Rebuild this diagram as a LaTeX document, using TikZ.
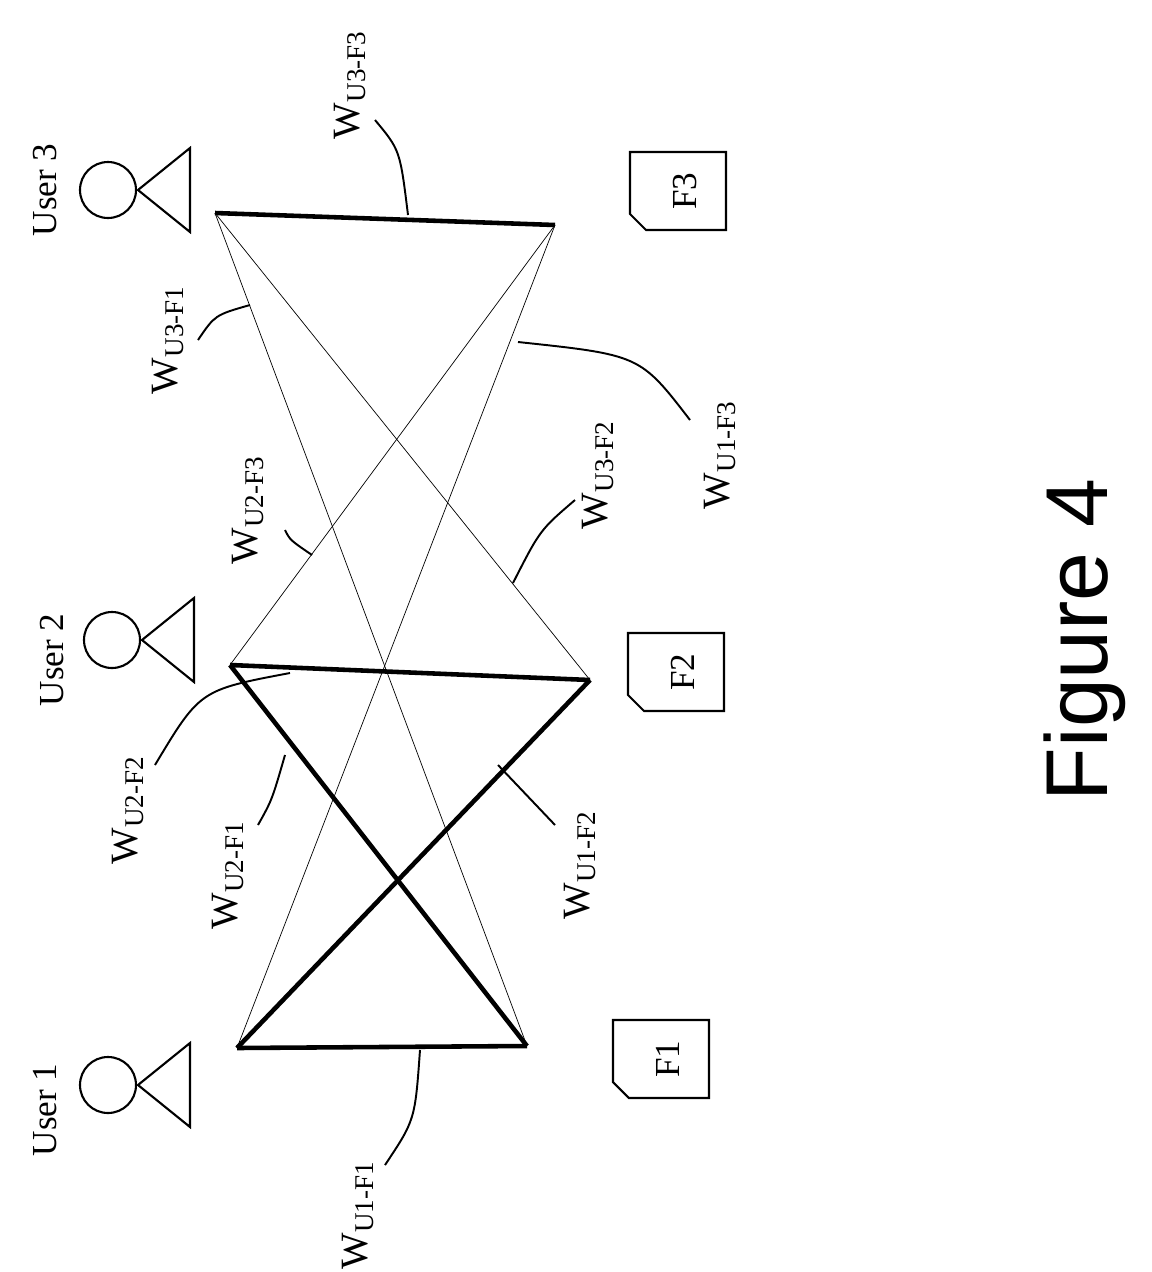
\documentclass[tikz,border=0pt]{standalone}
\usepackage{fontspec}
\setmainfont{Liberation Serif}
\setsansfont{Liberation Sans}
\begin{document}
\begin{tikzpicture}[x=0.02cm,y=-0.02cm,
  thick link/.style={line width=2.6pt},
  thin link/.style={line width=0.4pt},
  lead/.style={line width=1.1pt},
  lbl/.style={rotate=90,font=\fontsize{20}{22}\selectfont},
  wlbl/.style={rotate=90,font=\fontsize{22}{24}\selectfont}]
  \useasboundingbox (0,0) rectangle (1152,1272);
  % users
  \foreach \n/\cx/\cy in {1/108/1085,2/112/640,3/108/190}{
    \draw[line width=1.2pt] (\cx,\cy) circle (28);
    \draw[line width=1.2pt] (\cx+30,\cy) -- (\cx+82,\cy-42) -- (\cx+82,\cy+42) -- cycle;
  }
  \node[lbl] (u1) at (45,1110) {User 1};
  \node[lbl] (u2) at (52,660) {User 2};
  \node[lbl] (u3) at (45,190) {User 3};
  % files
  \foreach \n/\fx/\fy in {1/613/1020,2/628/633,3/630/152}{
    \draw[line width=1.2pt] (\fx,\fy) -- (\fx+96,\fy) -- (\fx+96,\fy+78) -- (\fx+16,\fy+78) -- (\fx,\fy+62) -- cycle;
    \node[lbl] (f\n) at (\fx+55,\fy+39) {F\n};
  }
  % junctions
  \coordinate (a1) at (237,1048); \coordinate (b1) at (527,1046);
  \coordinate (a2) at (230,665);  \coordinate (b2) at (590,680);
  \coordinate (a3) at (215,213);  \coordinate (b3) at (555,225);
  \draw[thin link] (a1) -- (b3);
  \draw[thin link] (a3) -- (b1);
  \draw[thin link] (a3) -- (b2);
  \draw[thin link] (a2) -- (b3);
  \draw[thick link] (a1) -- (b1);
  \draw[thick link] (a1) -- (b2);
  \draw[thick link] (a2) -- (b1);
  \draw[thick link] (a2) -- (b2);
  \draw[thick link] (a3) -- (b3);
  % weight labels
  \draw[lead] (420,1050) .. controls (415,1120) .. (385,1165);
  \node[wlbl] (w11) at (358,1215) {W\textsubscript{U1-F1}};
  \draw[lead] (290,673) .. controls (200,690) .. (155,765);
  \node[wlbl] (w22) at (128,810) {W\textsubscript{U2-F2}};
  \draw[lead] (285,755) .. controls (272,800) .. (258,825);
  \node[wlbl] (w21) at (228,875) {W\textsubscript{U2-F1}};
  \draw[lead] (498,765) -- (555,825);
  \node[wlbl] (w12) at (580,865) {W\textsubscript{U1-F2}};
  \draw[lead] (312,555) .. controls (290,540) .. (285,530);
  \node[wlbl] (w23) at (248,510) {W\textsubscript{U2-F3}};
  \draw[lead] (513,583) .. controls (540,530) .. (575,500);
  \node[wlbl] (w32) at (598,475) {W\textsubscript{U3-F2}};
  \draw[lead] (250,305) .. controls (215,315) .. (198,340);
  \node[wlbl] (w31) at (168,340) {W\textsubscript{U3-F1}};
  \draw[lead] (518,342) .. controls (640,355) .. (690,420);
  \node[wlbl] (w13) at (720,455) {W\textsubscript{U1-F3}};
  \draw[lead] (408,215) .. controls (400,150) .. (375,120);
  \node[wlbl] (w33) at (350,85) {W\textsubscript{U3-F3}};
  \node[rotate=90,font=\sffamily\fontsize{50}{56}\selectfont] (fig) at (1085,640) {Figure 4};
\end{tikzpicture}
\end{document}
